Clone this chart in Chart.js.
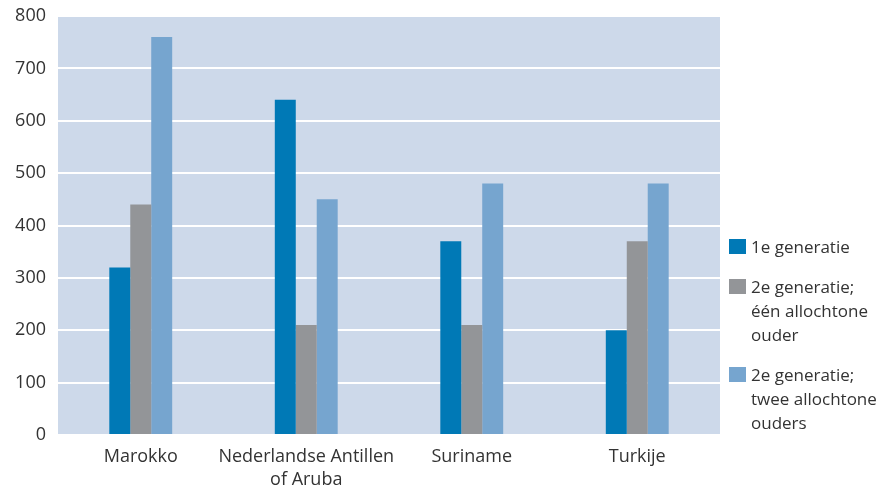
<!DOCTYPE html>
<html>
<head>
<meta charset="utf-8">
<script src="https://cdn.jsdelivr.net/npm/chart.js@4/dist/chart.umd.min.js"></script>
<style>
  html, body { margin: 0; padding: 0; background: #fff; }
  #wrap { position: relative; width: 877px; height: 491px; }
  #legend { position: absolute; left: 729px; top: 235px; font-family: 'Open Sans', sans-serif; font-size: 17px; color: #333; line-height: 24px; }
  #legend .it { position: relative; padding-left: 22px; margin-bottom: 16px; }
  #legend .sw { position: absolute; left: 0; top: 4px; width: 17px; height: 15px; }
</style>
</head>
<body>
<div id="wrap">
  <canvas id="c" width="877" height="491"></canvas>
  <div id="legend"></div>
</div>
<script>
  // categorie e serie
  const categories = ['Marokko', ['Nederlandse Antillen', 'of Aruba'], 'Suriname', 'Turkije'];
  const gen1 = [320, 640, 370, 200];
  const gen2een = [440, 210, 210, 370];
  const gen2twee = [760, 450, 480, 480];
  const seriesLabels = [['1e generatie'], ['2e generatie;', 'één allochtone', 'ouder'], ['2e generatie;', 'twee allochtone', 'ouders']];
  const yTicks = [0, 100, 200, 300, 400, 500, 600, 700, 800];

  const colors = ['#0079b6', '#939598', '#76a5cf'];

  const bgPlugin = {
    id: 'plotBg',
    beforeDraw(chart) {
      const a = chart.chartArea, ctx = chart.ctx;
      ctx.save();
      ctx.fillStyle = '#cdd9ea';
      ctx.fillRect(a.left, a.top, a.right - a.left, a.bottom - a.top);
      ctx.restore();
    }
  };

  const ds = [gen1, gen2een, gen2twee].map((d, i) => ({
    label: seriesLabels[i].join(' '), data: d, backgroundColor: colors[i],
    categoryPercentage: 0.38, barPercentage: 1, borderWidth: 0,
  }));

  Chart.defaults.font.family = "'Open Sans', sans-serif";
  new Chart(document.getElementById('c'), {
    type: 'bar',
    data: { labels: categories, datasets: ds },
    options: {
      responsive: false, animation: false,
      layout: { padding: { top: 16, right: 157, left: 0, bottom: 0 } },
      plugins: { legend: { display: false }, tooltip: { enabled: false } },
      scales: {
        x: {
          grid: { display: false }, border: { display: false },
          ticks: { color: '#333', font: { size: 18, lineHeight: 1.28 }, padding: 2, maxRotation: 0, autoSkip: false },
          afterFit: (s) => { s.height = 56; },
        },
        y: {
          min: 0, max: 800,
          afterBuildTicks: (s) => { s.ticks = yTicks.map((v) => ({ value: v })); },
          grid: { color: '#ffffff', lineWidth: 2, drawTicks: false },
          border: { display: false },
          ticks: { color: '#333', font: { size: 18 }, padding: 12 },
          afterFit: (s) => { s.width = 58; s.paddingTop = 0; s.paddingBottom = 0; },
        },
      },
    },
    plugins: [bgPlugin],
  });

  // legenda HTML (etichette su più righe)
  const lg = document.getElementById('legend');
  seriesLabels.forEach((lines, i) => {
    const d = document.createElement('div');
    d.className = 'it';
    d.innerHTML = '<span class="sw" style="background:' + colors[i] + '"></span>' + lines.join('<br>');
    lg.appendChild(d);
  });
</script>
</body>
</html>
